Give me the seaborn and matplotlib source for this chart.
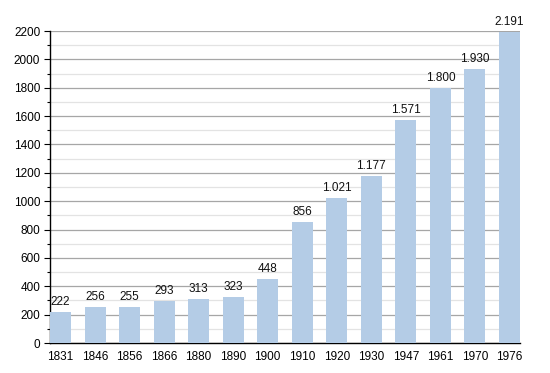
import numpy as np
import pandas as pd
import seaborn as sns
import matplotlib
matplotlib.use("Agg")
import matplotlib.pyplot as plt
from matplotlib.ticker import MultipleLocator

# Data
years = ["1831", "1846", "1856", "1866", "1880", "1890", "1900",
         "1910", "1920", "1930", "1947", "1961", "1970", "1976"]
population = [222, 256, 255, 293, 313, 323, 448,
              856, 1021, 1177, 1571, 1800, 1930, 2191]

df = pd.DataFrame({"year": years, "population": population})

sns.set_style("white")
plt.rcParams["font.family"] = ["Liberation Sans", "DejaVu Sans"]

fig = plt.figure(figsize=(5.5, 3.73), dpi=100)
ax = fig.add_axes([50 / 550, 30 / 373, 470 / 550, 312 / 373])

bar_w = 0.61
sns.barplot(data=df, x="year", y="population", color="#b4cce6",
            saturation=1, width=bar_w, linewidth=0, ax=ax, zorder=3)

# value labels, dot as thousands separator
for i, v in enumerate(population):
    lab = f"{v:,}".replace(",", ".")
    ax.text(i, v + 28, lab, ha="center", va="bottom", fontsize=8.5, color="#111111")

ax.set_xlim(-bar_w / 2, len(years) - 1 + bar_w / 2)
ax.set_ylim(0, 2200)
ax.yaxis.set_major_locator(MultipleLocator(200))
ax.yaxis.set_minor_locator(MultipleLocator(100))
ax.grid(which="major", axis="y", color="#a6a6a6", linewidth=0.9, zorder=0)
ax.grid(which="minor", axis="y", color="#e3e3e3", linewidth=0.9, zorder=0)
ax.set_axisbelow(True)

ax.set_xlabel("")
ax.set_ylabel("")
for s in ["top", "right"]:
    ax.spines[s].set_visible(False)
ax.spines["left"].set_color("black")
ax.spines["bottom"].set_color("black")
ax.spines["left"].set_linewidth(1.0)
ax.spines["bottom"].set_linewidth(1.0)

ax.tick_params(axis="y", which="major", left=True, length=4, width=0.8,
               labelsize=8.5, pad=3, colors="black")
ax.tick_params(axis="y", which="minor", left=True, length=2.5, width=0.8, colors="black")
ax.tick_params(axis="x", bottom=False, labelsize=8.5, pad=2, colors="black")

fig.savefig("out.png", dpi=100)
